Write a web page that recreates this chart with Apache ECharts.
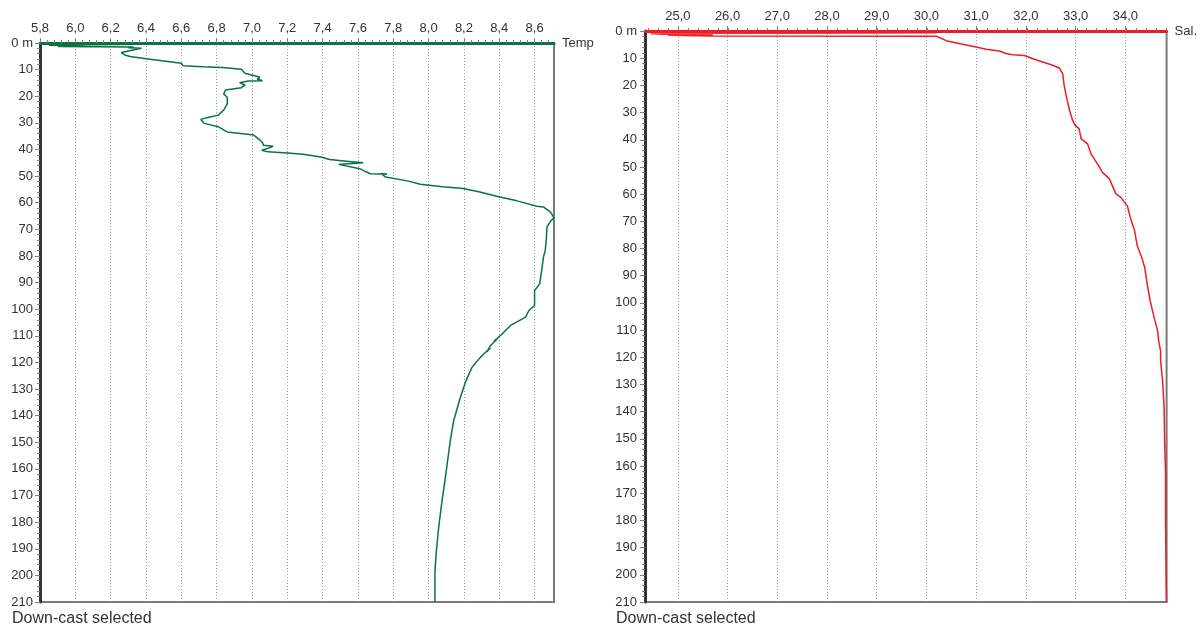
<!DOCTYPE html>
<html><head><meta charset="utf-8">
<script src="https://cdn.jsdelivr.net/npm/echarts@6/dist/echarts.min.js"></script>
<style>html,body{margin:0;padding:0;background:#fff}#c{width:1200px;height:628px}</style>
</head><body><div id="c"></div>
<script>
// Tick labels
const depthTicks = [0,10,20,30,40,50,60,70,80,90,100,110,120,130,140,150,160,170,180,190,200,210];
const tempTicks = [5.8,6.0,6.2,6.4,6.6,6.8,7.0,7.2,7.4,7.6,7.8,8.0,8.2,8.4,8.6];
const salTicks = [25,26,27,28,29,30,31,32,33,34];
const tempRange = [5.8, 8.71];
const salRange = [24.34, 34.83];
const footerText = 'Down-cast selected';

// Temperature profile (depth m, temp)
const tempDepth = [0.2,0.5,0.8,1.0,1.3,1.5,1.8,2.0,3.6,4.5,5.1,5.4,5.8,6.7,7.6,8.0,8.5,8.9,9.2,9.9,10.6,11.4,12.0,12.4,12.9,13.5,14.2,14.3,14.9,15.8,16.8,17.7,19.1,20.4,22.9,25.2,27.1,28.0,28.7,30.2,31.5,33.4,34.6,36.5,37.5,38.4,38.8,39.6,40.3,40.9,41.3,41.8,42.8,43.8,44.5,45.0,45.6,46.3,47.2,48.2,49.1,49.3,49.0,50.3,51.8,53.1,54.0,54.7,56.0,57.6,59.3,61.3,61.6,63.5,65.6,67.0,69.2,74.2,78.0,80.5,85.5,90.5,93.0,98.6,100.5,103.0,106.1,109.9,112.0,111.0,113.7,116.0,114.5,118.1,121.8,127.5,133.1,141.9,149.4,163.2,172.0,182.0,190.8,198.4,210.0];
const tempValues = [5.80,6.38,5.85,6.05,5.90,6.33,6.30,6.375,6.26,6.28,6.31,6.30,6.39,6.49,6.60,6.61,6.61,6.72,6.83,6.94,6.95,6.96,6.95,7.02,7.045,7.03,7.06,6.98,6.93,6.96,6.94,6.85,6.84,6.86,6.86,6.84,6.81,6.75,6.71,6.73,6.81,6.86,7.01,7.046,7.06,7.065,7.12,7.09,7.055,7.09,7.20,7.29,7.39,7.44,7.55,7.63,7.49,7.49,7.61,7.64,7.67,7.765,7.73,7.755,7.88,7.953,8.08,8.196,8.29,8.385,8.50,8.613,8.65,8.69,8.71,8.69,8.67,8.666,8.66,8.65,8.64,8.629,8.60,8.60,8.568,8.549,8.464,8.407,8.37,8.39,8.35,8.33,8.35,8.293,8.246,8.208,8.18,8.142,8.123,8.095,8.076,8.057,8.044,8.036,8.036];

// Salinity profile (depth m, salinity)
const salDepth = [0.1,0.3,0.5,0.6,0.9,1.2,1.4,1.6,1.8,1.95,2.6,3.55,4.8,5.9,6.7,7.35,8.3,8.7,9.0,10.2,11.6,12.6,13.6,15.7,20.0,23.7,28.6,32.9,34.7,35.9,39.6,41.5,45.2,48.9,52.0,54.4,59.9,61.2,64.3,69.2,72.9,79.0,83.3,87.0,93.1,99.3,105.4,110.3,114.0,117.7,121.3,128.7,138.6,150.8,163.1,181.5,199.9,210.0];
const salValues = [24.34,30.13,24.4,30.2,24.45,24.7,25.7,24.8,25.7,30.2,30.23,30.4,30.7,31.0,31.2,31.47,31.6,31.73,31.97,32.14,32.37,32.54,32.67,32.74,32.77,32.81,32.87,32.94,32.99,33.07,33.11,33.24,33.31,33.44,33.54,33.68,33.81,33.91,34.04,34.11,34.18,34.24,34.33,34.39,34.44,34.5,34.58,34.65,34.67,34.71,34.71,34.75,34.78,34.79,34.81,34.81,34.82,34.83];

const GREEN = '#0b7149', RED = '#ee1c25';
const FONT = '"Liberation Sans", Arial, sans-serif';
const TXT = '#333333', TICK = '#8a7c7c';

function minorList(lo, hi, step) {
  const out = [];
  for (let i = Math.ceil(lo / step - 1e-9); i * step <= hi + 1e-9; i++) out.push(+(i * step).toFixed(4));
  return out;
}
const fmtDec = v => (Math.round(v * 10) / 10).toFixed(1).replace('.', ',');
const fmtDepth = v => v === 0 ? '0 m' : String(v);

const grids = [
  {left: 40, top: 43, width: 514, height: 559},
  {left: 645, top: 31, width: 523, height: 571}
];

function mainX(gi, range, ticks, color, name) {
  return {
    gridIndex: gi, type: 'value', position: 'top', min: range[0], max: range[1],
    axisLine: {show: true, lineStyle: {color: color, width: 3}},
    axisTick: {show: true, customValues: ticks, length: 5, lineStyle: {color: TICK, width: 1}},
    axisLabel: {show: true, customValues: ticks, formatter: fmtDec, margin: 8, fontSize: 13, color: TXT, fontFamily: FONT},
    splitLine: {show: true, lineStyle: {type: [1, 2], color: '#9a9a9a', width: 1}},
    name: name, nameLocation: 'end', nameGap: 8,
    nameTextStyle: {fontSize: 13, color: TXT, fontFamily: FONT, verticalAlign: 'middle'}
  };
}
function minorX(gi, range, step) {
  return {
    gridIndex: gi, type: 'value', position: 'top', min: range[0], max: range[1],
    axisLine: {show: false}, axisLabel: {show: false}, splitLine: {show: false},
    axisTick: {show: true, customValues: minorList(range[0], range[1], step), length: 3, lineStyle: {color: TICK, width: 1}}
  };
}
function mainY(gi, labelMargin) {
  return {
    gridIndex: gi, type: 'value', inverse: true, min: 0, max: 210, interval: 10,
    axisLine: {show: true, lineStyle: {color: '#333', width: 3}},
    axisTick: {show: true, length: 5, lineStyle: {color: TICK, width: 1}},
    minorTick: {show: true, splitNumber: 5, length: 3, lineStyle: {color: TICK, width: 1}},
    axisLabel: {show: true, formatter: fmtDepth, margin: labelMargin, fontSize: 13, color: TXT, fontFamily: FONT, customValues: depthTicks},
    splitLine: {show: false}
  };
}
function hiddenY(gi) {
  return {gridIndex: gi, type: 'value', inverse: true, min: 0, max: 210, show: false};
}

const option = {
  animation: false,
  backgroundColor: '#ffffff',
  grid: [
    Object.assign({show: true, borderColor: '#7a7a7a', borderWidth: 2, backgroundColor: 'transparent'}, grids[0]),
    Object.assign({show: true, borderColor: '#7a7a7a', borderWidth: 2, backgroundColor: 'transparent'}, grids[1]),
    Object.assign({show: false}, grids[0]),
    Object.assign({show: false}, grids[1])
  ],
  xAxis: [
    mainX(0, tempRange, tempTicks, GREEN, 'Temp'),
    mainX(1, salRange, salTicks, RED, 'Sal.'),
    minorX(2, tempRange, 0.04),
    minorX(3, salRange, 0.2)
  ],
  yAxis: [mainY(0, 7), mainY(1, 8), hiddenY(2), hiddenY(3)],
  series: [
    {type: 'line', xAxisIndex: 0, yAxisIndex: 0, showSymbol: false, z: 3,
     lineStyle: {color: GREEN, width: 1.5}, data: tempDepth.map((d, i) => [tempValues[i], d])},
    {type: 'line', xAxisIndex: 1, yAxisIndex: 1, showSymbol: false, z: 3,
     lineStyle: {color: RED, width: 1.5}, data: salDepth.map((d, i) => [salValues[i], d])}
  ],
  graphic: [
    {type: 'text', left: 12, top: 611, style: {text: footerText, font: '16px ' + FONT, fill: TXT}},
    {type: 'text', left: 616, top: 611, style: {text: footerText, font: '16px ' + FONT, fill: TXT}}
  ]
};
const chart = echarts.init(document.getElementById('c'), null, {renderer: 'canvas'});
chart.setOption(option);
</script>
</body></html>
